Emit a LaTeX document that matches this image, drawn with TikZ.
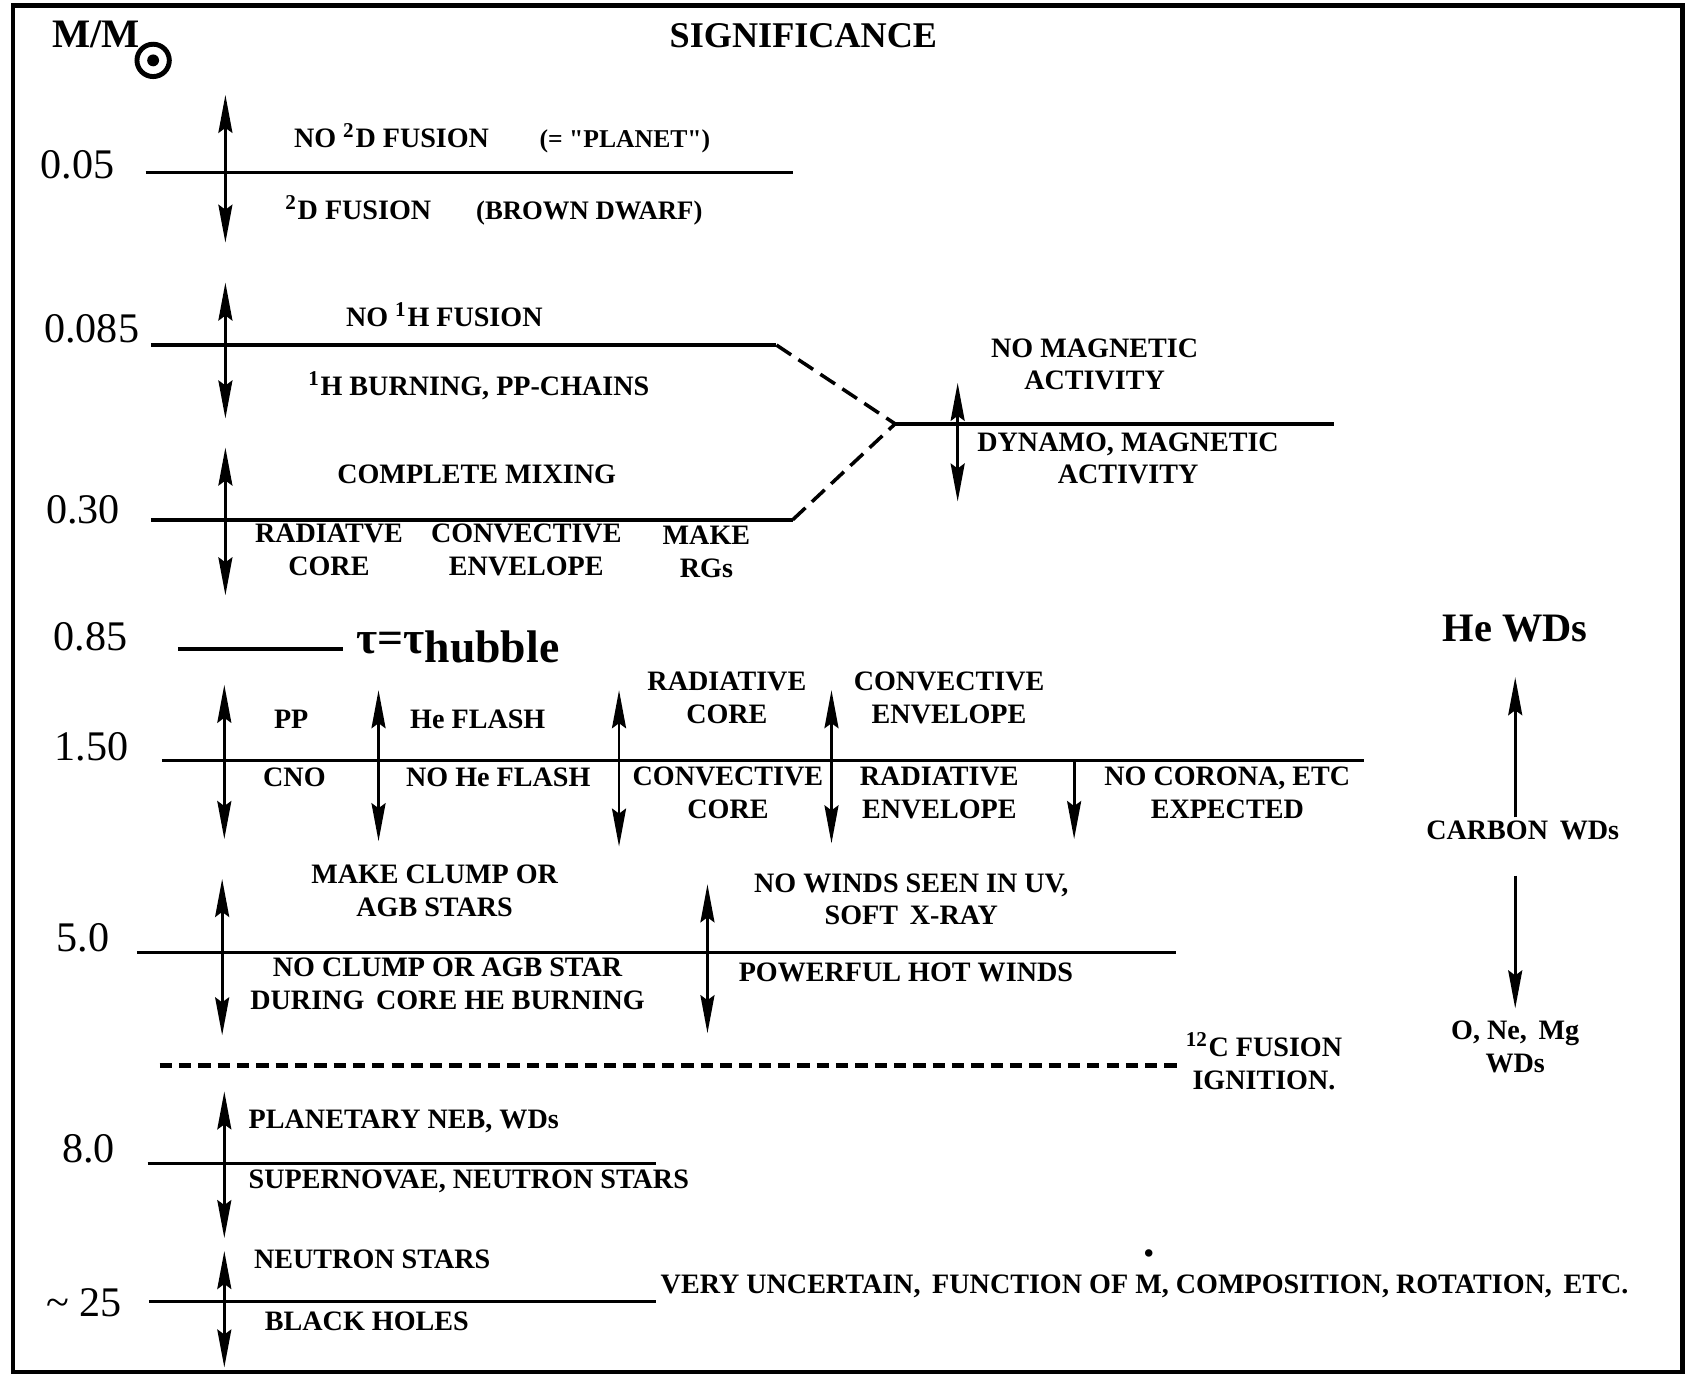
\documentclass[tikz,border=0pt]{standalone}
\usepackage{fontspec}
\setmainfont{Liberation Serif}
\usetikzlibrary{arrows.meta}
\tikzset{
  txt/.style = {font=\bfseries\fontsize{8}{9.3}\selectfont, align=center, inner sep=0pt},
  lbl/.style = {font=\fontsize{12}{14}\selectfont, inner sep=0pt},
  bnd/.style = {line width=1pt},
  dbl/.style = {line width=0.8pt, {Stealth[length=3.8mm,width=1.4mm,inset=0.5mm]}-{Stealth[length=3.8mm,width=1.4mm,inset=0.5mm]}},
  one/.style = {line width=0.8pt, -{Stealth[length=3.8mm,width=1.4mm,inset=0.5mm]}},
}
\begin{document}
\begin{tikzpicture}[x=0.010784cm, y=-0.010784cm]
\useasboundingbox (0,0) rectangle (1568,1276);
\draw[line width=1.3pt] (12,5) rectangle (1560,1272);
% heading
\node[font=\bfseries\fontsize{11.5}{13}\selectfont, inner sep=0pt, anchor=base west] (mm) at (48,44) {M/M};
\draw[line width=1.4pt] (142,56) circle[radius=15];
\fill (142,56) circle[radius=5.5];
\node[font=\bfseries\fontsize{10.3}{12}\selectfont] (sig) at (745,33) {SIGNIFICANCE};
% mass values
\node[lbl] (m1) at (72,153) {0.05};
\node[lbl] (m2) at (85,305) {0.085};
\node[lbl] (m3) at (77,473) {0.30};
\node[lbl] (m4) at (84,590) {0.85};
\node[lbl] (m5) at (85,692) {1.50};
\node[lbl] (m6) at (77,870) {5.0};
\node[lbl] (m7) at (82,1065) {8.0};
\node[lbl] (m8) at (78,1208) {\textasciitilde\ 25};
% 0.05
\draw[bnd] (135,160) -- (735,160);
\draw[dbl] (209,88) -- (209,225);
\node[txt, anchor=west] (planet) at (272,128) {NO \textsuperscript{2}D FUSION\hspace{1.8em}{\fontsize{7.3}{9}\selectfont(= \textquotedbl PLANET\textquotedbl)}};
\node[txt, anchor=west] (brown) at (264,195) {\textsuperscript{2}D FUSION\hspace{1.6em}{\fontsize{7.6}{9}\selectfont(BROWN DWARF)}};
% 0.085 and 0.30
\coordinate (mag) at (830,393);
\draw[bnd] (140,320) -- (720,320);
\draw[bnd, dash pattern=on 5pt off 2.5pt] (720,320) -- (mag);
\draw[bnd] (140,482) -- (735,482);
\draw[bnd, dash pattern=on 5pt off 2.5pt] (735,482) -- (mag);
\draw[bnd] (mag) -- (1237,393);
\draw[dbl] (209,262) -- (209,388);
\draw[dbl] (209,415) -- (209,552);
\draw[dbl] (888,355) -- (888,465);
\node[txt] (noh) at (412,292) {NO \textsuperscript{1}H FUSION};
\node[txt] (hburn) at (444,358) {\textsuperscript{1}H BURNING, PP-CHAINS};
\node[txt] (mix) at (442,440) {COMPLETE MIXING};
\node[txt] (radc) at (305,510) {RADIATVE\\CORE};
\node[txt] (conve) at (488,510) {CONVECTIVE\\ENVELOPE};
\node[txt] (rgs) at (655,512) {MAKE\\RGs};
\node[txt] (nomag) at (1015,338) {NO MAGNETIC\\ACTIVITY};
\node[txt] (dyn) at (1046,425) {DYNAMO, MAGNETIC\\ACTIVITY};
% 0.85
\draw[bnd] (165,602) -- (318,602);
\node[anchor=west, font=\bfseries\fontsize{13}{15}\selectfont, inner sep=0pt] (tau) at (330,600) {τ=τ\raisebox{-0.45ex}{hubble}};
% 1.50
\draw[bnd] (150,705) -- (1265,705);
\draw[dbl] (208,635) -- (208,778);
\draw[dbl] (351,640) -- (351,780);
\draw[dbl] (574,640) -- (574,785);
\draw[dbl] (771,640) -- (771,782);
\draw[one] (996,705) -- (996,778);
\node[txt] (pp) at (270,667) {PP};
\node[txt] (cno) at (273,721) {CNO};
\node[txt] (flash) at (443,667) {He FLASH};
\node[txt] (noflash) at (462,721) {NO He FLASH};
\node[txt] (radcore) at (674,647) {RADIATIVE\\CORE};
\node[txt] (convcore) at (675,735) {CONVECTIVE\\CORE};
\node[txt] (convenv) at (880,647) {CONVECTIVE\\ENVELOPE};
\node[txt] (radenv) at (871,735) {RADIATIVE\\ENVELOPE};
\node[txt] (corona) at (1138,735) {NO CORONA, ETC\\EXPECTED};
% white dwarfs
\node[font=\bfseries\fontsize{11.5}{13}\selectfont, inner sep=0pt] (hewd) at (1405,583) {He WDs};
\node[txt] (cwd) at (1412,770) {CARBON\, WDs};
\node[txt] (onewd) at (1405,971) {O, Ne,\, Mg\\WDs};
\draw[one] (1405,758) -- (1405,628);
\draw[one] (1405,812) -- (1405,935);
% 5.0
\draw[bnd] (127,883) -- (1090,883);
\draw[dbl] (206,815) -- (206,960);
\draw[dbl] (656,820) -- (656,958);
\node[txt] (clump) at (403,826) {MAKE CLUMP OR\\AGB STARS};
\node[txt] (noclump) at (415,912) {NO CLUMP OR AGB STAR\\DURING\, CORE HE BURNING};
\node[txt] (nowind) at (845,834) {NO WINDS SEEN IN UV,\\SOFT\, X-RAY};
\node[txt] (wind) at (840,902) {POWERFUL HOT WINDS};
% carbon ignition
\draw[line width=1.2pt, dash pattern=on 3.5pt off 2pt] (148,988) -- (1095,988);
\node[txt] (cfus) at (1172,984) {\textsuperscript{12}C FUSION\\IGNITION.};
% 8.0
\draw[bnd] (137,1079) -- (608,1079);
\draw[dbl] (208,1012) -- (208,1148);
\node[txt, anchor=west] (pn) at (230,1040) {PLANETARY NEB, WDs};
\node[txt, anchor=west] (sn) at (230,1095) {SUPERNOVAE, NEUTRON STARS};
% 25
\draw[bnd] (138,1207) -- (608,1207);
\draw[dbl] (208,1160) -- (208,1268);
\node[txt, anchor=west] (ns) at (235,1168) {NEUTRON STARS};
\node[txt, anchor=west] (bh) at (245,1225) {BLACK HOLES};
\node[txt, anchor=base west] (unc) at (612,1199) {VERY UNCERTAIN,\, FUNCTION OF \rlap{\hspace{0.3em}\raisebox{1.3em}{\fontsize{13}{13}\selectfont.}}M, COMPOSITION, ROTATION,\, ETC.};
\end{tikzpicture}
\end{document}
